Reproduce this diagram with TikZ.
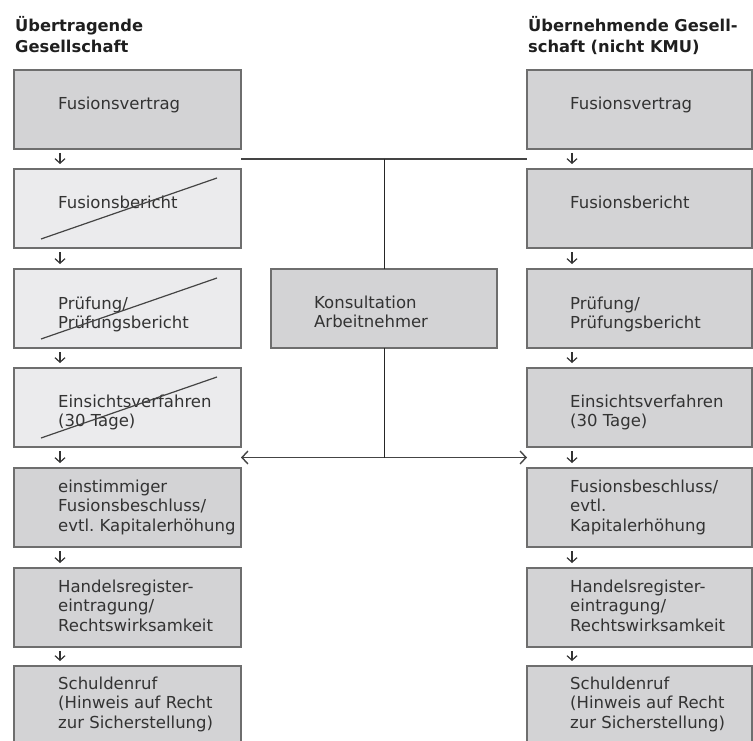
\documentclass[tikz,border=0pt]{standalone}
\usepackage{fontspec}
\setmainfont{DejaVu Sans}
\usetikzlibrary{arrows.meta,calc}
\frenchspacing
\definecolor{boxdark}{HTML}{D3D3D5}
\definecolor{boxlight}{HTML}{EBEBED}
\definecolor{bordergray}{HTML}{6E6E6E}
\definecolor{textgray}{HTML}{333333}
\definecolor{linegray}{HTML}{444444}
\tikzset{
  boxd/.style={draw=bordergray, line width=1.5pt, fill=boxdark, minimum height=79pt, anchor=north west, inner sep=0pt, outer sep=0pt},
  boxl/.style={boxd, fill=boxlight},
  lw/.style={minimum width=227pt},
  rw/.style={minimum width=225pt},
  txt/.style={anchor=base west, inner sep=0pt, text=textgray, font=\fontsize{16.5}{19.5}\selectfont},
  title/.style={anchor=base west, inner sep=0pt, text=black!88, font=\fontsize{16.3}{21}\selectfont\bfseries},
  strike/.style={draw=linegray, line width=1.2pt},
  conn/.style={draw=linegray, line width=1.4pt},
  vline/.style={draw=black!85, line width=1pt},
  smallarr/.style={draw=textgray, line width=1.2pt, -{Straight Barb[length=4.5pt,width=10pt]}, shorten <=4pt, shorten >=5pt},
  bigtip/.style={{Straight Barb[length=6pt,width=13pt]}-{Straight Barb[length=6pt,width=13pt]}}
}
\newcommand{\pb}[1]{\parbox[t]{215pt}{\raggedright #1}}
\begin{document}
\begin{tikzpicture}[x=1pt,y=-1pt]
\useasboundingbox (0,0) rectangle (753,741);
% titles
\node[title] (tl) at (15,32) {\parbox[t]{230pt}{\raggedright Übertragende\\Gesellschaft}};
\node[title] (tr) at (528,32) {\parbox[t]{230pt}{\raggedright Übernehmende Gesell-\\schaft (nicht KMU)}};
% left boxes
\node[boxd,lw] (L1) at (14,70) {};
\node[boxl,lw] (L2) at (14,169) {};
\node[boxl,lw] (L3) at (14,269) {};
\node[boxl,lw] (L4) at (14,368) {};
\node[boxd,lw] (L5) at (14,468) {};
\node[boxd,lw] (L6) at (14,568) {};
\node[boxd,lw] (L7) at (14,666) {};
% right boxes
\node[boxd,rw] (R1) at (527,70) {};
\node[boxd,rw] (R2) at (527,169) {};
\node[boxd,rw] (R3) at (527,269) {};
\node[boxd,rw] (R4) at (527,368) {};
\node[boxd,rw] (R5) at (527,468) {};
\node[boxd,rw] (R6) at (527,568) {};
\node[boxd,rw] (R7) at (527,666) {};
% middle box
\node[boxd,minimum width=226pt] (K) at (271,269) {};
% left texts
\node[txt] (L1t) at ($(L1.north west)+(44,40)$) {\pb{Fusionsvertrag}};
\node[txt] (L2t) at ($(L2.north west)+(44,40)$) {\pb{Fusionsbericht}};
\node[txt] (L3t) at ($(L3.north west)+(44,40)$) {\pb{Prüfung/\\Prüfungsbericht}};
\node[txt] (L4t) at ($(L4.north west)+(44,39)$) {\pb{Einsichtsverfahren\\(30 Tage)}};
\node[txt] (L5t) at ($(L5.north west)+(44,24)$) {\pb{einstimmiger\\Fusionsbeschluss/\\evtl. Kapitalerhöhung}};
\node[txt] (L6t) at ($(L6.north west)+(44,24)$) {\pb{Handelsregister-\\eintragung/\\Rechtswirksamkeit}};
\node[txt] (L7t) at ($(L7.north west)+(44,23)$) {\pb{Schuldenruf\\(Hinweis auf Recht\\zur Sicherstellung)}};
% right texts
\node[txt] (R1t) at ($(R1.north west)+(43,40)$) {\pb{Fusionsvertrag}};
\node[txt] (R2t) at ($(R2.north west)+(43,40)$) {\pb{Fusionsbericht}};
\node[txt] (R3t) at ($(R3.north west)+(43,40)$) {\pb{Prüfung/\\Prüfungsbericht}};
\node[txt] (R4t) at ($(R4.north west)+(43,39)$) {\pb{Einsichtsverfahren\\(30 Tage)}};
\node[txt] (R5t) at ($(R5.north west)+(43,24)$) {\pb{Fusionsbeschluss/\\evtl.\\Kapitalerhöhung}};
\node[txt] (R6t) at ($(R6.north west)+(43,24)$) {\pb{Handelsregister-\\eintragung/\\Rechtswirksamkeit}};
\node[txt] (R7t) at ($(R7.north west)+(43,23)$) {\pb{Schuldenruf\\(Hinweis auf Recht\\zur Sicherstellung)}};
% middle text
\node[txt] (Kt) at ($(K.north west)+(43,39)$) {\parbox[t]{170pt}{\raggedright Konsultation\\Arbeitnehmer}};
% strike-through lines
\foreach \b in {L2,L3,L4}{
  \draw[strike] ($(\b.north west)+(27,70)$) -- ($(\b.north west)+(203,9)$);
}
% small arrows
\foreach \a/\b in {L1/L2,L2/L3,L3/L4,L4/L5,L5/L6,L6/L7}{
  \draw[smallarr] ([xshift=46pt]\a.south west) -- ([xshift=46pt]\b.north west);
}
\foreach \a/\b in {R1/R2,R2/R3,R3/R4,R4/R5,R5/R6,R6/R7}{
  \draw[smallarr] ([xshift=45pt]\a.south west) -- ([xshift=45pt]\b.north west);
}
% connectors
\coordinate (topL) at ($(L1.south east)!0.5!(L2.north east)$);
\coordinate (topR) at ($(R1.south west)!0.5!(R2.north west)$);
\coordinate (botL) at ($(L4.south east)!0.5!(L5.north east)$);
\coordinate (botR) at ($(R4.south west)!0.5!(R5.north west)$);
\draw[conn] (topL) -- (topR);
\draw[vline] (K.north) -- (K.north |- topL);
\draw[conn,bigtip] (botL) -- (botR);
\draw[vline] (K.south) -- (K.south |- botL);
\end{tikzpicture}
\end{document}
